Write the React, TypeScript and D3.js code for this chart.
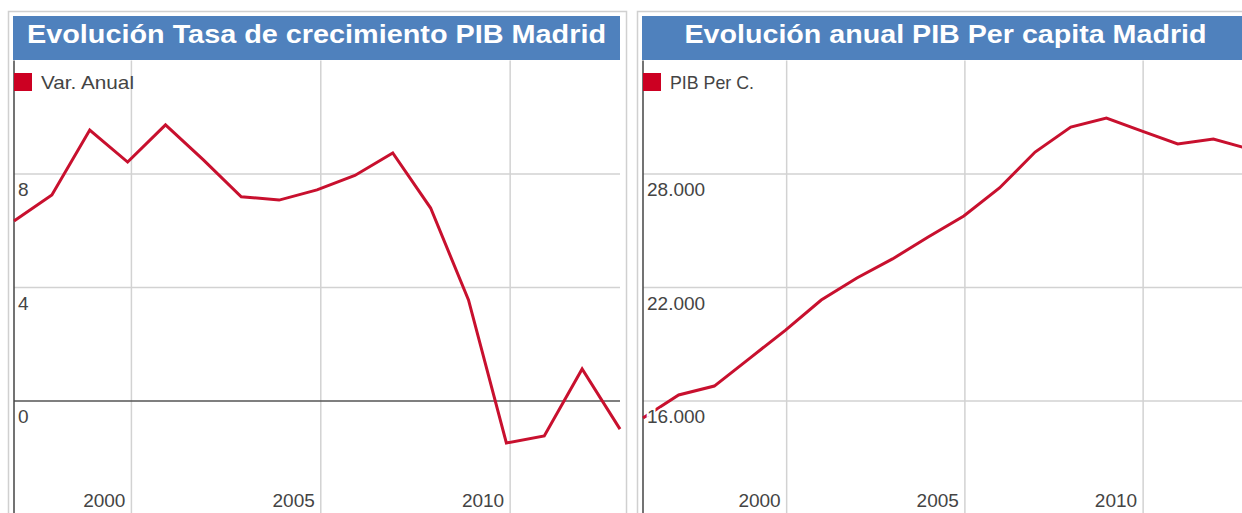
import React from "react";
import * as d3 from "d3";

// ---- Data ----
const growthYears = [1997, 1998, 1999, 2000, 2001, 2002, 2003, 2004, 2005, 2006, 2007, 2008, 2009, 2010, 2011, 2012, 2013];
const growthValues = [6.34, 7.26, 9.55, 8.42, 9.73, 8.5, 7.2, 7.08, 7.44, 7.95, 8.74, 6.8, 3.56, -1.48, -1.23, 1.13, -0.99];
const growthYTicks = [0, 4, 8];

const pcYears = [1996, 1997, 1998, 1999, 2000, 2001, 2002, 2003, 2004, 2005, 2006, 2007, 2008, 2009, 2010, 2011, 2012, 2013];
const pcValues = [15100, 16320, 16790, 18270, 19750, 21340, 22500, 23510, 24670, 25780, 27260, 29160, 30480, 30960, 30270, 29590, 29850, 29320];
const pcYTicks = [16000, 22000, 28000];

const xTickYears = [2000, 2005, 2010];

const esLocale = d3.formatLocale({ decimal: ",", thousands: ".", grouping: [3], currency: ["", "€"] });
const fmtThousands = esLocale.format(",");
const fmtPlain = d3.format("d");

const FONT = "'Liberation Sans', Arial, sans-serif";
const BLUE = "#4f81bd";
const RED = "#c8102e";
const GRID = "#d2d2d2";
const AXIS = "#444";
const TEXT = "#444";

interface PanelProps {
  left: number;
  right: number;
  title: string;
  titleWidth: number;
  legend: string;
  legendWidth: number;
  years: number[];
  values: number[];
  yDomain: [number, number];
  yTicks: number[];
  fmt: (v: number) => string;
  gridShift: number;
  zero: boolean;
}

function Panel(p: PanelProps) {
  const top = 60.5;
  const bottom = 514.5;
  const x = d3.scaleLinear().domain([p.years[0], p.years[p.years.length - 1]]).range([p.left, p.right]);
  const y = d3.scaleLinear().domain(p.yDomain).range([bottom, top]);
  const line = d3
    .line<number>()
    .x((_, i) => x(p.years[i]))
    .y((d) => y(d));
  const pts = p.values;
  return (
    <g>
      {/* outer border */}
      <rect x={p.left - 5.5} y={11.5} width={p.right - p.left + 12} height={520} fill="#fff" stroke="#d0d0d0" strokeWidth={1.5} />
      {/* title bar */}
      <rect x={p.left - 1} y={16} width={p.right - p.left + 1} height={44} fill={BLUE} />
      <text
        x={(p.left - 1 + p.right) / 2}
        y={43}
        textAnchor="middle"
        fill="#fff"
        fontFamily={FONT}
        fontWeight="bold"
        fontSize={25}
        textLength={p.titleWidth}
        lengthAdjust="spacingAndGlyphs"
      >
        {p.title}
      </text>
      {/* vertical grid */}
      {xTickYears.map((yr) => (
        <line key={"v" + yr} x1={x(yr + p.gridShift)} x2={x(yr + p.gridShift)} y1={top} y2={bottom} stroke={GRID} strokeWidth={1.5} />
      ))}
      {/* horizontal grid */}
      {p.yTicks.map((t) => (
        <line
          key={"h" + t}
          x1={p.left}
          x2={p.right}
          y1={y(t)}
          y2={y(t)}
          stroke={p.zero && t === 0 ? "#555" : GRID}
          strokeWidth={1.5}
        />
      ))}
      {/* y axis line */}
      <line x1={p.left} x2={p.left} y1={top} y2={bottom} stroke={AXIS} strokeWidth={1.5} />
      {/* data line */}
      <path d={line(pts) || ""} fill="none" stroke={RED} strokeWidth={3} strokeLinejoin="miter" />
      {/* y labels */}
      {p.yTicks.map((t) => (
        <text
          key={"yl" + t}
          x={p.left + 4}
          y={y(t) + 22}
          fill={TEXT}
          fontFamily={FONT}
          fontSize={19}
          stroke="#fff"
          strokeWidth={4}
          paintOrder="stroke"
        >
          {p.fmt(t)}
        </text>
      ))}
      {/* x labels */}
      {xTickYears.map((yr) => (
        <text
          key={"xl" + yr}
          x={x(yr + p.gridShift) - 6}
          y={507}
          textAnchor="end"
          fill={TEXT}
          fontFamily={FONT}
          fontSize={19}
        >
          {fmtPlain(yr)}
        </text>
      ))}
      {/* legend */}
      <rect x={p.left} y={73} width={18} height={18} fill="#cc0022" />
      <text
        x={p.left + 27}
        y={89}
        fill={TEXT}
        fontFamily={FONT}
        fontSize={19}
        textLength={p.legendWidth}
        lengthAdjust="spacingAndGlyphs"
      >
        {p.legend}
      </text>
    </g>
  );
}

export default function App() {
  return (
    <svg
      width={1242}
      height={513}
      style={{ position: "absolute", left: 0, top: 0, display: "block", background: "#fff" }}
    >
      <Panel
        left={14}
        right={620}
        title="Evolución Tasa de crecimiento PIB Madrid"
        titleWidth={579}
        legend="Var. Anual"
        legendWidth={93}
        years={growthYears}
        values={growthValues}
        yDomain={[-4, 12]}
        yTicks={growthYTicks}
        fmt={fmtPlain}
        gridShift={0.1}
        zero={true}
      />
      <Panel
        left={643}
        right={1249}
        title="Evolución anual PIB Per capita Madrid"
        titleWidth={522}
        legend="PIB Per C."
        legendWidth={84}
        years={pcYears}
        values={pcValues}
        yDomain={[10000, 34000]}
        yTicks={pcYTicks}
        fmt={fmtThousands}
        gridShift={0.03}
        zero={false}
      />
    </svg>
  );
}
